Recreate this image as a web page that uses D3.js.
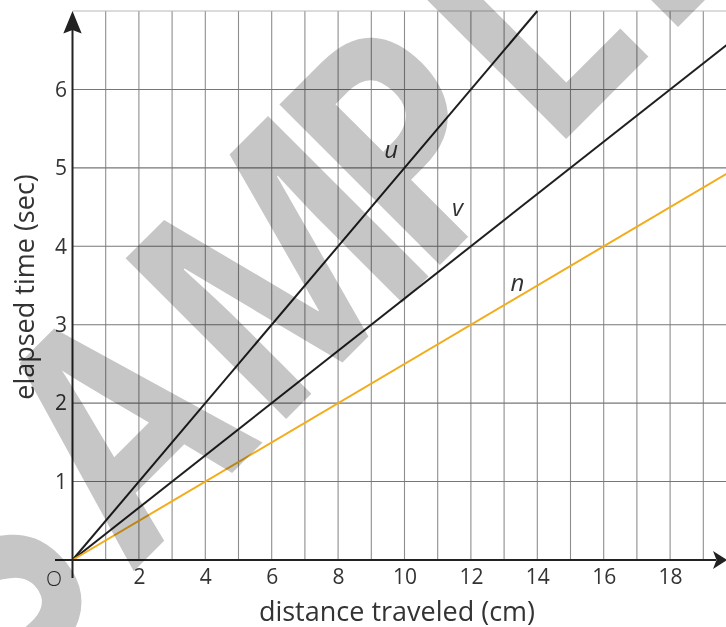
<!DOCTYPE html>
<html>
<head>
<meta charset="utf-8">
<script src="https://cdn.jsdelivr.net/npm/d3@7"></script>
<style>
  html, body { margin: 0; padding: 0; background: #fff; }
  svg { display: block; }
  text { font-family: "Open Sans", sans-serif; }
</style>
</head>
<body>
<svg id="chart" width="726" height="627"></svg>
<script>
// Distance (cm) vs elapsed time (sec) for three objects moving at constant speed
const xTicks = [2, 4, 6, 8, 10, 12, 14, 16, 18];
const yTicks = [1, 2, 3, 4, 5, 6];
const xGrid = d3.range(1, 20);
const yGrid = [1, 2, 3, 4, 5, 6, 7];

// each line passes through the origin; points are [distance, time]
const lineU = [[0, 0], [14, 7]];
const lineV = [[0, 0], [19.8, 6.6]];
const lineN = [[0, 0], [19.8, 4.95]];

const seriesNames = ["u", "v", "n"];
const seriesPoints = [lineU, lineV, lineN];
const seriesColors = ["#1f1f1f", "#1f1f1f", "#f2ac1c"];
// where each name sits, in data units
const labelPos = [[9.6, 5.13], [11.6, 4.38], [13.4, 3.43]];

const svg = d3.select("#chart");
const W = 726, H = 627;

const x = d3.scaleLinear().domain([0, 20]).range([72.5, 72.5 + 20 * 33.2]);
const y = d3.scaleLinear().domain([0, 7]).range([560, 11]);

// grid
const grid = svg.append("g");
grid.selectAll("line.v").data(xGrid).join("line")
  .attr("x1", d => x(d)).attr("x2", d => x(d))
  .attr("y1", y(0)).attr("y2", y(7))
  .attr("stroke", "#8e8e8e").attr("stroke-width", 1.1);
grid.selectAll("line.h").data(yGrid).join("line")
  .attr("x1", x(0)).attr("x2", W)
  .attr("y1", d => y(d)).attr("y2", d => y(d))
  .attr("stroke", d => d === 7 ? "#b8b8b8" : "#777")
  .attr("stroke-width", 1.1);

// data lines
const line = d3.line().x(d => x(d[0])).y(d => y(d[1]));
svg.append("g").selectAll("path").data(seriesPoints).join("path")
  .attr("d", line)
  .attr("fill", "none")
  .attr("stroke", (d, i) => seriesColors[i])
  .attr("stroke-width", 2);

svg.append("g").selectAll("text").data(seriesNames).join("text")
  .attr("x", (d, i) => x(labelPos[i][0]))
  .attr("y", (d, i) => y(labelPos[i][1]))
  .attr("text-anchor", "middle")
  .attr("font-size", 24)
  .attr("font-style", "italic")
  .attr("fill", "#333")
  .text(d => d);

// axes with arrowheads
const axisColor = "#222";
svg.append("line")
  .attr("x1", x(0)).attr("x2", x(0))
  .attr("y1", 578).attr("y2", 28)
  .attr("stroke", axisColor).attr("stroke-width", 2);
svg.append("line")
  .attr("x1", 55).attr("x2", 716)
  .attr("y1", y(0)).attr("y2", y(0))
  .attr("stroke", axisColor).attr("stroke-width", 2);

const x0 = x(0), y0 = y(0);
svg.append("path")
  .attr("d", `M${x0},11 L${x0 + 9.2},33.5 L${x0},30 L${x0 - 9.2},33.5 Z`)
  .attr("fill", axisColor);
svg.append("path")
  .attr("d", `M727,${y0} L713,${y0 - 9} L716.5,${y0} L713,${y0 + 9} Z`)
  .attr("fill", axisColor);

// tick labels through d3 axes
const xAxis = d3.axisBottom(x).tickValues(xTicks).tickSize(0).tickPadding(9)
  .tickFormat(d3.format("d"));
const gx = svg.append("g").attr("transform", `translate(0,${y0})`).call(xAxis);
gx.select(".domain").remove();
gx.selectAll("text")
  .attr("font-size", 21).attr("fill", "#333")
  .attr("font-family", "Open Sans, sans-serif");

const yAxis = d3.axisLeft(y).tickValues(yTicks).tickSize(0).tickPadding(5.5)
  .tickFormat(d3.format("d"));
const gy = svg.append("g").attr("transform", `translate(${x0},0)`).call(yAxis);
gy.select(".domain").remove();
gy.selectAll("text")
  .attr("font-size", 21).attr("fill", "#333")
  .attr("font-family", "Open Sans, sans-serif");

svg.append("text")
  .attr("x", 54).attr("y", 586)
  .attr("text-anchor", "middle")
  .attr("font-size", 21).attr("font-weight", 300)
  .attr("fill", "#333")
  .text("O");

// axis titles
svg.append("text")
  .attr("x", 397).attr("y", 621)
  .attr("text-anchor", "middle")
  .attr("font-size", 27).attr("fill", "#333")
  .text("distance traveled (cm)");
svg.append("text")
  .attr("transform", "translate(34,287) rotate(-90)")
  .attr("text-anchor", "middle")
  .attr("font-size", 27).attr("fill", "#333")
  .text("elapsed time (sec)");

// diagonal watermark, narrowed and multiplied over the chart;
// each letter gets its own pen position along the slanted baseline
const markLetters = "SAMPLE";
const markPen = [-584.8, -372.7, -141.7, 120.4, 335.4, 526.1];
svg.append("text")
  .attr("transform", "translate(352.5,352.5) rotate(-45) scale(0.83,1)")
  .attr("x", markPen.join(" "))
  .attr("y", 0)
  .attr("font-family", "Liberation Sans, Arial, sans-serif")
  .attr("font-weight", "bold")
  .attr("font-size", 318)
  .attr("fill", "#c6c6c6")
  .style("mix-blend-mode", "multiply")
  .text(markLetters);
</script>
</body>
</html>
